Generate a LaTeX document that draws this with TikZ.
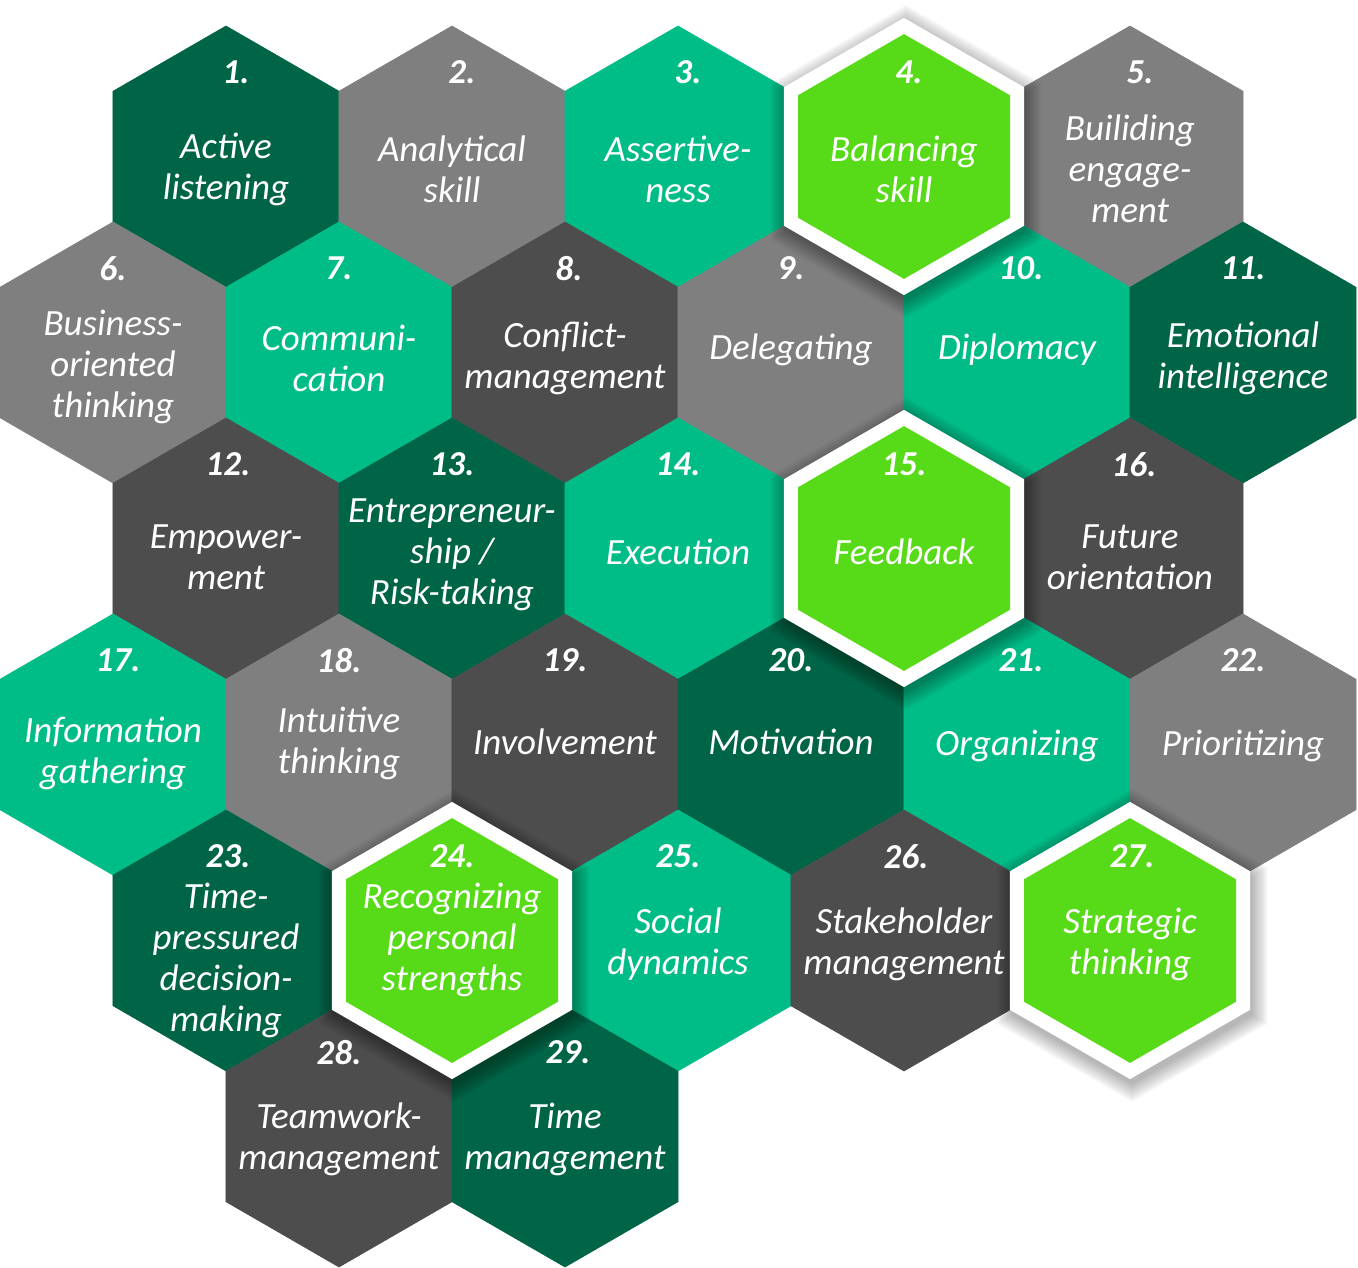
\documentclass[tikz,border=0pt]{standalone}
\usepackage{fontspec}
\setmainfont{Carlito}
\definecolor{cdgreen}{HTML}{006446}
\definecolor{cgray}{HTML}{7F7F7F}
\definecolor{cteal}{HTML}{00BC87}
\definecolor{cdgray}{HTML}{4D4D4D}
\definecolor{clime}{HTML}{57DA17}
\newcommand\hexpath[3]{(#1,#2) +(30:#3) -- +(90:#3) -- +(150:#3) -- +(210:#3) -- +(270:#3) -- +(330:#3) -- cycle}
% grid cell: cx, cy, colour
\newcommand\hexfill[3]{\fill[#3, draw=#3, line width=0.6pt] \hexpath{#1}{#2}{130.5};}
% highlighted cell: cx, cy
\newcommand\hexhigh[2]{%
  \foreach \i in {1,...,14}{\pgfmathsetmacro\rr{137+\i*1.4}
    \fill[black, opacity=0.025] \hexpath{#1+2}{#2+5}{\rr};}
  \fill[white] \hexpath{#1}{#2}{138.6};
  \fill[clime] \hexpath{#1}{#2}{122.4};}
% labels: name, cx, cy, number, number dx, text, text y
\newcommand\hexlabel[7]{%
  \node[numstyle] (n#1) at (#2+#5,#3-84) {#4.};
  \node[txtstyle] (t#1) at (#2,#7) {#6};}
\begin{document}
\begin{tikzpicture}[x=1pt,y=-1pt,
  numstyle/.style={text=white, inner sep=0pt, font=\fontsize{35}{40}\selectfont\bfseries\itshape},
  txtstyle/.style={text=white, inner sep=0pt, align=center, yshift=-2pt, font=\fontsize{37}{41}\selectfont\itshape}]
\useasboundingbox (0,0) rectangle (1358,1268);
% row 1
\hexfill{226}{156.5}{cdgreen}
\hexfill{452}{156.5}{cgray}
\hexfill{678}{156.5}{cteal}
\hexfill{1130}{156.5}{cgray}
% row 2
\hexfill{113}{352.5}{cgray}
\hexfill{339}{352.5}{cteal}
\hexfill{565}{352.5}{cdgray}
\hexfill{791}{352.5}{cgray}
\hexfill{1017}{352.5}{cteal}
\hexfill{1243}{352.5}{cdgreen}
% row 3
\hexfill{226}{548.5}{cdgray}
\hexfill{452}{548.5}{cdgreen}
\hexfill{678}{548.5}{cteal}
\hexfill{1130}{548.5}{cdgray}
% row 4
\hexfill{113}{744.5}{cteal}
\hexfill{339}{744.5}{cgray}
\hexfill{565}{744.5}{cdgray}
\hexfill{791}{744.5}{cdgreen}
\hexfill{1017}{744.5}{cteal}
\hexfill{1243}{744.5}{cgray}
% row 5
\hexfill{226}{940.5}{cdgreen}
\hexfill{678}{940.5}{cteal}
\hexfill{904}{940.5}{cdgray}
% row 6
\hexfill{339}{1136.5}{cdgray}
\hexfill{565}{1136.5}{cdgreen}
% highlighted cells
\hexhigh{904}{156.5}
\hexhigh{904}{548.5}
\hexhigh{452}{940.5}
\hexhigh{1130}{940.5}
% labels
\hexlabel{1}{226}{156.5}{1}{10}{Active\\listening}{167}
\hexlabel{2}{452}{156.5}{2}{10}{Analytical\\skill}{167}
\hexlabel{3}{678}{156.5}{3}{10}{Assertive-\\ness}{167}
\hexlabel{4}{904}{156.5}{4}{5}{Balancing\\skill}{167}
\hexlabel{5}{1130}{156.5}{5}{10}{Builiding\\engage-\\ment}{167}
\hexlabel{6}{113}{352.5}{6}{0}{Business-\\oriented\\thinking}{365}
\hexlabel{7}{339}{352.5}{7}{0}{Communi-\\cation}{356}
\hexlabel{8}{565}{352.5}{8}{4}{Conflict-\\management}{356}
\hexlabel{9}{791}{352.5}{9}{0}{Delegating}{348}
\hexlabel{10}{1017}{352.5}{10}{4}{Diplomacy}{348}
\hexlabel{11}{1243}{352.5}{11}{0}{Emotional\\intelligence}{356}
\hexlabel{12}{226}{548.5}{12}{2}{Empower-\\ment}{555}
\hexlabel{13}{452}{548.5}{13}{0}{Entrepreneur-\\ship /\\Risk-taking}{553}
\hexlabel{14}{678}{548.5}{14}{0}{Execution}{550}
\hexlabel{15}{904}{548.5}{15}{0}{Feedback}{550}
\hexlabel{16}{1130}{548.5}{16}{4}{Future\\orientation}{555}
\hexlabel{17}{113}{744.5}{17}{5}{Information\\gathering}{751}
\hexlabel{18}{339}{744.5}{18}{0}{Intuitive\\thinking}{741}
\hexlabel{19}{565}{744.5}{19}{0}{Involvement}{740}
\hexlabel{20}{791}{744.5}{20}{0}{Motivation}{740}
\hexlabel{21}{1017}{744.5}{21}{4}{Organizing}{744}
\hexlabel{22}{1243}{744.5}{22}{0}{Prioritizing}{744}
\hexlabel{23}{226}{940.5}{23}{2}{Time-\\pressured\\decision-\\making}{958}
\hexlabel{24}{452}{940.5}{24}{0}{Recognizing\\personal\\strengths}{938}
\hexlabel{25}{678}{940.5}{25}{0}{Social\\dynamics}{942}
\hexlabel{26}{904}{940.5}{26}{2}{Stakeholder\\management}{942}
\hexlabel{27}{1130}{940.5}{27}{2}{Strategic\\thinking}{942}
\hexlabel{28}{339}{1136.5}{28}{0}{Teamwork-\\management}{1137}
\hexlabel{29}{565}{1136.5}{29}{3}{Time\\management}{1137}
\end{tikzpicture}
\end{document}
